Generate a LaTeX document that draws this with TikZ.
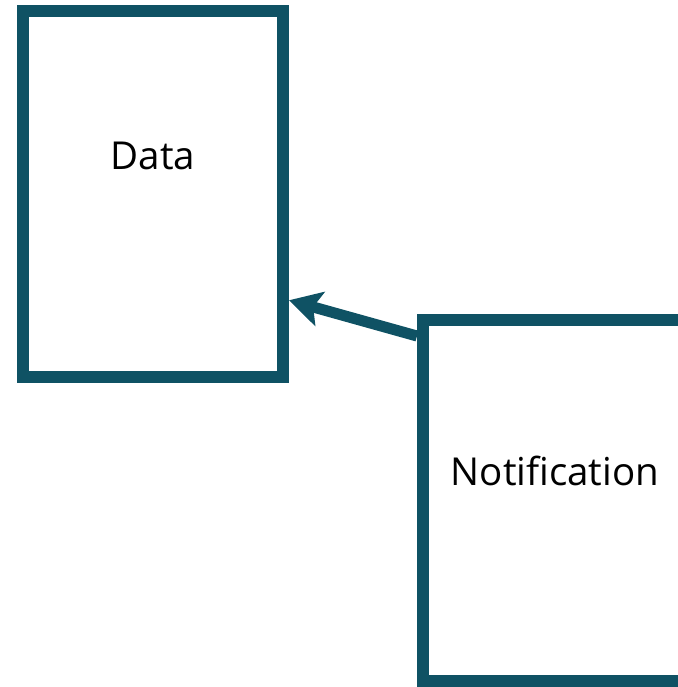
\documentclass[tikz,border=0pt]{standalone}
\usepackage{fontspec}
\setmainfont[Ligatures=NoCommon]{Open Sans}
\usetikzlibrary{arrows.meta,positioning}
\definecolor{teal}{RGB}{15,82,100}

\begin{document}
\begin{tikzpicture}
			[x=1pt, y=-1pt,
			 box/.style={rectangle, draw=teal, line width=12pt, font=\fontsize{38.5}{42}\selectfont},]
			\useasboundingbox (0,0) rectangle (677,687);
          	\node[box, minimum width=260pt, minimum height=366pt, text depth=77pt] (data) at (153,194) {Data};
          	\node[box, minimum width=264pt, minimum height=361pt, text depth=60pt] (notif) at (555,500.5) {Notification};

            \draw[-{Stealth[length=32pt, width=35pt, inset=7pt]}, line width=11pt, teal] (notif.130) -- (data.-38);
			\end{tikzpicture}
\end{document}
